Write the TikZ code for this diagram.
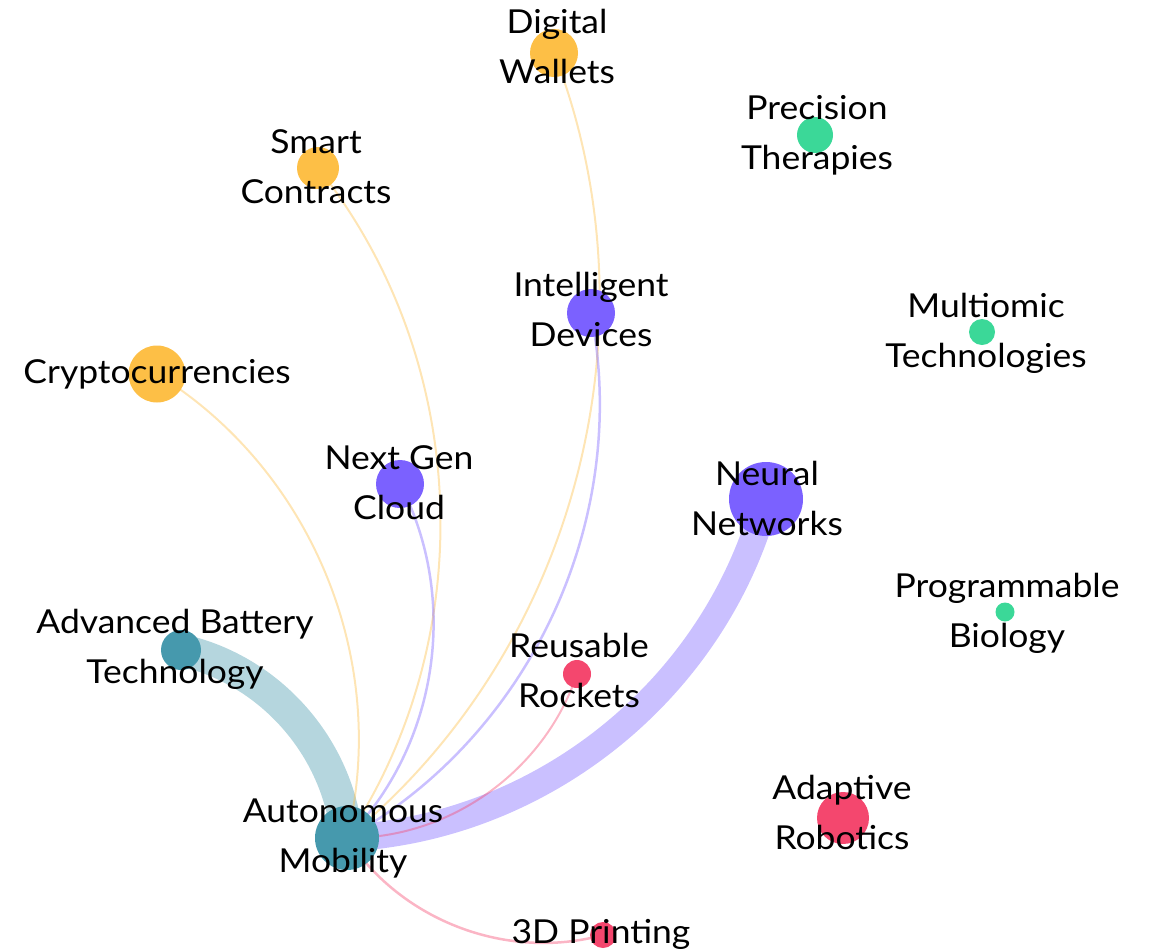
\documentclass[tikz,border=0pt]{standalone}
\usepackage{fontspec}
\setmainfont{Lato}[FakeStretch=1.075]
\usetikzlibrary{backgrounds}
\definecolor{cyel}{HTML}{FDBF46}
\definecolor{cpur}{HTML}{7B61FF}
\definecolor{cgrn}{HTML}{3BD898}
\definecolor{cred}{HTML}{F4476E}
\definecolor{ctea}{HTML}{4699AD}
\newcommand\twolines[2]{\vtop{\baselineskip=50pt\lineskiplimit=-100pt\halign{\hfil##\hfil\cr#1\cr#2\cr}}}
\tikzset{
  dot/.style={circle,inner sep=0pt,outer sep=0pt,draw=none},
  lbl/.style={anchor=base,inner sep=0pt,outer sep=0pt,text=black,font=\fontsize{33}{50}\selectfont},
  link/.style={draw opacity=0.4,line cap=butt,bend right=36,looseness=0.93},
}
\begin{document}
\begin{tikzpicture}[x=1pt,y=1pt]
\useasboundingbox (0,0) rectangle (1153,-951);
% nodes (circles)
\node[dot,fill=cyel,minimum size=48] (dw) at (554,-53) {};
\node[dot,fill=cyel,minimum size=42] (sc) at (318,-168) {};
\node[dot,fill=cgrn,minimum size=36] (pt) at (815,-135) {};
\node[dot,fill=cpur,minimum size=48] (idv) at (591,-313) {};
\node[dot,fill=cgrn,minimum size=26] (mt) at (982,-332) {};
\node[dot,fill=cyel,minimum size=57] (cr) at (157,-374) {};
\node[dot,fill=cpur,minimum size=48] (ngc) at (400,-484) {};
\node[dot,fill=cpur,minimum size=74] (nn) at (766,-499) {};
\node[dot,fill=cgrn,minimum size=19] (pb) at (1005,-612) {};
\node[dot,fill=ctea,minimum size=40] (abt) at (181,-650) {};
\node[dot,fill=cred,minimum size=28] (rr) at (577,-674) {};
\node[dot,fill=ctea,minimum size=64] (am) at (347,-838) {};
\node[dot,fill=cred,minimum size=52] (ar) at (843,-818) {};
\node[dot,fill=cred,minimum size=26] (tdp) at (603,-935) {};
% connectors
\begin{scope}[on background layer]
\draw[link,draw=ctea,line width=32] (am.center) to (abt.center);
\draw[link,draw=cpur,line width=27] (am.center) to (nn.center);
\draw[link,draw=cyel,line width=2] (am.center) to (cr.center);
\draw[link,draw=cyel,line width=2] (am.center) to (sc.center);
\draw[link,draw=cyel,line width=2] (am.center) to (dw.center);
\draw[link,draw=cpur,line width=2.5] (am.center) to (ngc.center);
\draw[link,draw=cpur,line width=2.5] (am.center) to (idv.center);
\draw[link,draw=cred,line width=2] (am.center) to (rr.center);
\draw[link,draw=cred,line width=2.5] (am.center) to (tdp.center);
\end{scope}
% labels
\node[lbl] (l-dw) at (557,-33) {\twolines{Digital}{Wallets}};
\node[lbl] (l-sc) at (316,-153) {\twolines{Smart}{Contracts}};
\node[lbl] (l-pt) at (817,-119) {\twolines{Precision}{Therapies}};
\node[lbl] (l-idv) at (591,-296) {\twolines{Intelligent}{Devices}};
\node[lbl] (l-mt) at (986,-317) {\twolines{Multiomic}{Technologies}};
\node[lbl] (l-cr) at (157,-383) {Cryptocurrencies};
\node[lbl] (l-ngc) at (399,-469) {\twolines{Next Gen}{Cloud}};
\node[lbl] (l-nn) at (767,-485) {\twolines{Neural}{Networks}};
\node[lbl] (l-pb) at (1007,-597) {\twolines{Programmable}{Biology}};
\node[lbl] (l-abt) at (175,-633) {\twolines{Advanced Battery}{Technology}};
\node[lbl] (l-rr) at (579,-657) {\twolines{Reusable}{Rockets}};
\node[lbl] (l-am) at (343,-822) {\twolines{Autonomous}{Mobility}};
\node[lbl] (l-ar) at (842,-799) {\twolines{Adaptive}{Robotics}};
\node[lbl] (l-tdp) at (601,-943) {3D Printing};
\end{tikzpicture}
\end{document}
